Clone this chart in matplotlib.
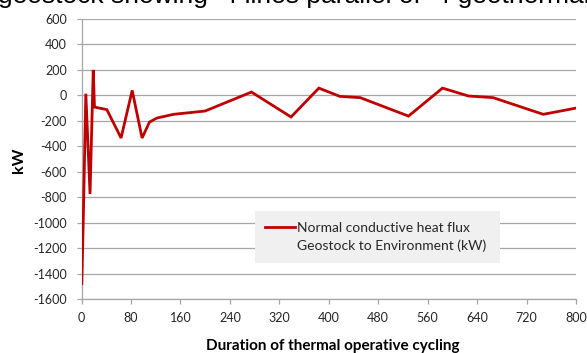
import matplotlib
matplotlib.use("Agg")
import matplotlib.pyplot as plt
from matplotlib.patches import Rectangle
from matplotlib.lines import Line2D

# Conductive heat flux from the geostock to the environment over the cycling period
duration = [0.5, 3, 7, 13.8, 19, 21, 41, 64, 82, 98, 110, 122, 149, 200,
            275, 339, 384, 418, 451, 529, 584, 626, 666, 747, 800]
heat_flux_kw = [-1480, -950, 13, -775, 200, -92, -112, -335, 39, -335, -210, -178,
                -149, -123, 26, -170, 57, -8, -18, -163, 57, -5, -18, -149, -100]

x_ticks = [0, 80, 160, 240, 320, 400, 480, 560, 640, 720, 800]
y_ticks = [-1600, -1400, -1200, -1000, -800, -600, -400, -200, 0, 200, 400, 600]

series_label = ["Normal conductive heat flux", "Geostock to Environment (kW)"]
title_text = "geostock showing  4 lines parallel of  4 geothermal"
x_label = "Duration of thermal operative cycling"
y_label = "kW"

RED = "#c00000"
GRID = "#a6a6a6"
TXT = "#262626"

plt.rcParams['font.family'] = ['Lato', 'DejaVu Sans']

W, H = 587, 353
fig = plt.figure(figsize=(W / 100, H / 100), dpi=100)
ax = fig.add_axes([81.5 / W, 1 - 299 / H, (576 - 81.5) / W, (299 - 19) / H])

ax.plot(duration, heat_flux_kw, color=RED, lw=2.0, solid_joinstyle='miter', zorder=3)

ax.set_xlim(0, 800)
ax.set_ylim(-1600, 600)
ax.set_xticks(x_ticks)
ax.set_yticks(y_ticks)
ax.set_xticklabels([str(v) for v in x_ticks])
ax.set_yticklabels([str(v) for v in y_ticks])

ax.grid(axis='y', color=GRID, lw=0.9, zorder=0)
ax.set_axisbelow(True)
for s in ('top', 'right'):
    ax.spines[s].set_visible(False)
for s in ('left', 'bottom'):
    ax.spines[s].set_color(GRID)
    ax.spines[s].set_linewidth(0.9)

ax.tick_params(axis='both', colors=GRID, length=3.6, width=0.9, direction='out')
ax.tick_params(axis='both', labelcolor=TXT, labelsize=9)
ax.tick_params(axis='x', pad=6)
ax.tick_params(axis='y', pad=7)

fig.text(333 / W, 1 - 350 / H, x_label, ha='center', va='baseline',
         fontsize=11, fontweight='bold', color='black')
fig.text(19 / W, 1 - 160 / H, y_label, ha='center', va='center', rotation=90,
         fontsize=11.5, fontweight='bold', color='black')

# title sits partly above the canvas edge
fig.text(-2 / W, 1 - 3.5 / H, title_text, ha='left', va='baseline',
         fontsize=19, color='black', family=['Liberation Sans', 'DejaVu Sans'])

# legend box
def ax_x(px):
    return (px - 81.5) / 494.5

def ax_y(py):
    return (299 - py) / 280

ax.add_patch(Rectangle((ax_x(255), ax_y(262.7)), ax_x(500) - ax_x(255),
                       ax_y(211) - ax_y(262.7), transform=ax.transAxes,
                       facecolor='#f0f0f0', edgecolor='none', zorder=4))
ax.add_line(Line2D([ax_x(265), ax_x(295)], [ax_y(226.7), ax_y(226.7)],
                   transform=ax.transAxes, color=RED, lw=2.0, zorder=5))
for line, base in zip(series_label, (231.5, 250.5)):
    ax.text(ax_x(297), ax_y(base), line, transform=ax.transAxes,
            ha='left', va='baseline', fontsize=10, color=TXT, zorder=5)

fig.savefig("out.png", dpi=100)
